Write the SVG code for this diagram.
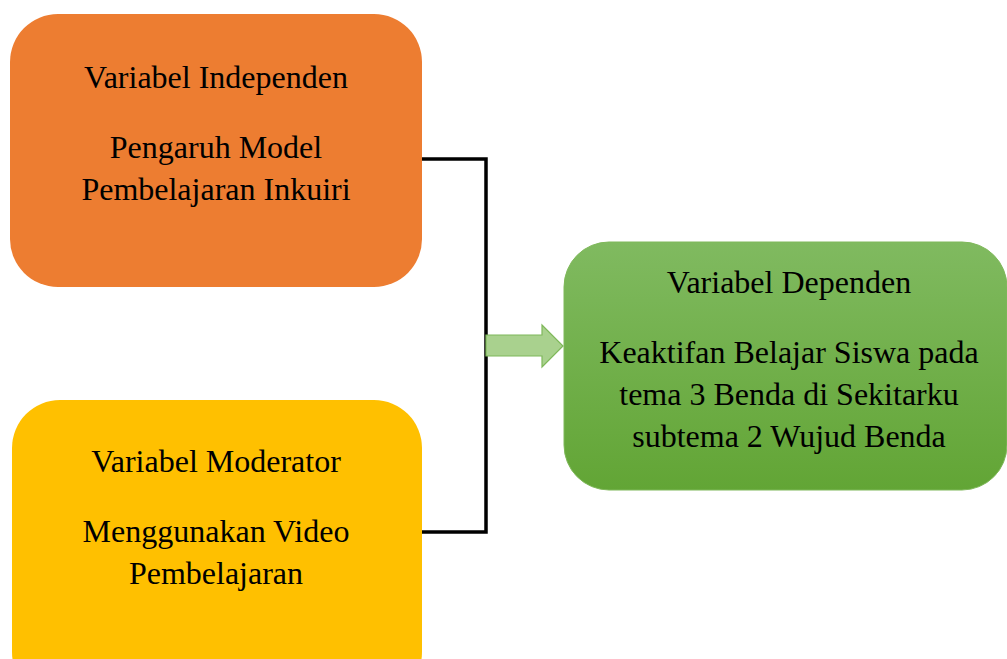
<svg xmlns="http://www.w3.org/2000/svg" width="1007" height="659" viewBox="0 0 1007 659">
<style>
text{font-family:"Liberation Serif","Times New Roman",serif;font-size:32px;fill:#000;text-anchor:middle}
.conn{fill:none;stroke:#000;stroke-width:3.5}
</style>
<defs>
<linearGradient id="g" x1="0" y1="0" x2="0" y2="1">
<stop offset="0" stop-color="#80BA60"/>
<stop offset="1" stop-color="#62A535"/>
</linearGradient>
</defs>
<rect width="1007" height="659" fill="#fff"/>
<g id="connectors">
<path class="conn" d="M422 159 H486 V532 H422"/>
<path d="M486 335 H542 V325 L563 346 L542 367 V356 H486 Z" fill="#A9D18E" stroke="#7FB85A" stroke-width="1.2"/>
</g>
<g id="independen">
<rect x="10" y="14" width="412" height="273" rx="48" fill="#ED7D31"/>
<text x="216" y="88">Variabel Independen</text>
<text x="216" y="158">Pengaruh Model</text>
<text x="216" y="200">Pembelajaran Inkuiri</text>
</g>
<g id="moderator">
<rect x="12" y="400" width="410" height="300" rx="48" fill="#FFC000"/>
<text x="216" y="472">Variabel Moderator</text>
<text x="216" y="542">Menggunakan Video</text>
<text x="216" y="584">Pembelajaran</text>
</g>
<g id="dependen">
<rect x="564" y="242" width="443" height="248" rx="45" fill="url(#g)" stroke="#7FB85A" stroke-width="1"/>
<text x="789" y="293">Variabel Dependen</text>
<text x="789" y="363">Keaktifan Belajar Siswa pada</text>
<text x="789" y="405">tema 3 Benda di Sekitarku</text>
<text x="789" y="447">subtema 2 Wujud Benda</text>
</g>
</svg>
